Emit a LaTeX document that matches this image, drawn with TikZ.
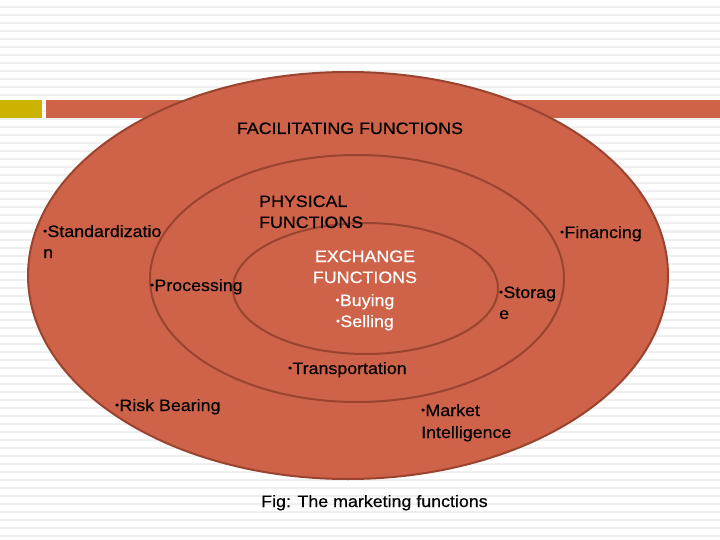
\documentclass[tikz,border=0pt]{standalone}
\usepackage{fontspec}
\setmainfont{Liberation Sans}[FakeStretch=1.08,FakeBold=0.4]
\definecolor{stripe}{HTML}{EFEFEF}
\definecolor{barY}{HTML}{CBB300}
\definecolor{ovalfill}{HTML}{CF6349}
\definecolor{ovaledge}{HTML}{9A432F}
\newcommand\bul{\raisebox{2.6pt}{\fontsize{10}{10}\selectfont •}\hspace{0.5pt}}
\tikzset{
  oval/.style={fill=ovalfill, draw=ovaledge, line width=2pt},
  ring/.style={draw=ovaledge, line width=2pt},
  lbl/.style={inner sep=0pt, anchor=base west, font=\fontsize{16.5}{20}\selectfont, text=black},
  lblc/.style={inner sep=0pt, anchor=base, font=\fontsize{16.5}{20}\selectfont},
}
\begin{document}
\begin{tikzpicture}[x=1pt,y=-1pt]
\useasboundingbox (0,0) rectangle (720,540);
\fill[white] (0,0) rectangle (720,540);
\foreach \k in {0,...,67} {
  \fill[stripe] (0,{8*\k+6.5}) rectangle (720,{8*\k+8.5});
}
\fill[barY] (0,100) rectangle (42,118);
\fill[ovalfill] (46,100) rectangle (720,118);
\path[oval] (348,275.5) ellipse [x radius=320, y radius=203.5];
\path[ring] (357,278.5) ellipse [x radius=207, y radius=123.5];
\path[ring] (365.5,288.5) ellipse [x radius=132.5, y radius=65.5];
\node[lblc] (fac) at (350,134) {FACILITATING FUNCTIONS};
\node[lbl] (phys1) at (259,207) {PHYSICAL};
\node[lbl] (phys2) at (259,228) {FUNCTIONS};
\node[lblc,text=white] (ex1) at (365,262) {EXCHANGE};
\node[lblc,text=white] (ex2) at (365,283) {FUNCTIONS};
\node[lblc,text=white] (buy) at (365,306) {\bul Buying};
\node[lblc,text=white] (sell) at (365,327) {\bul Selling};
\node[lbl] (std1) at (43,237) {\bul Standardizatio};
\node[lbl] (std2) at (43,258) {n};
\node[lbl] (proc) at (150,291) {\bul Processing};
\node[lbl] (fin) at (560,238) {\bul Financing};
\node[lbl] (sto1) at (499,298) {\bul Storag};
\node[lbl] (sto2) at (499,319) {e};
\node[lbl] (trans) at (288,374) {\bul Transportation};
\node[lbl] (risk) at (115,411) {\bul Risk Bearing};
\node[lbl] (mkt1) at (421,416) {\bul Market};
\node[lbl] (mkt2) at (421,438) {Intelligence};
\node[lbl] (fig) at (261,507) {Fig: The marketing functions};
\end{tikzpicture}
\end{document}
